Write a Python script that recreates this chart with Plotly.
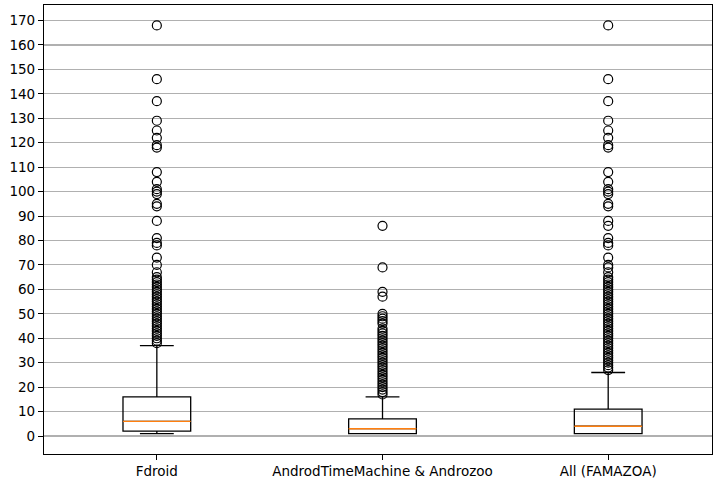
import plotly.graph_objects as go

categories = ["Fdroid", "AndrodTimeMachine & Androzoo", "All (FAMAZOA)"]
positions = [1, 2, 3]
q1 = [2, 1, 1]
median = [6, 3, 4]
q3 = [16, 7, 11]
lower_whisker = [1, 1, 1]
upper_whisker = [37, 16, 26]

outliers_fdroid = [38, 39, 40, 41, 42, 43, 44, 45, 46, 47, 48, 49, 50, 51, 52, 53, 54,
                   55, 56, 57, 58, 59, 60, 61, 62, 63, 64, 65, 67, 70, 73, 78, 79, 81,
                   88, 94, 95, 99, 100, 101, 104, 108, 118, 119, 122, 125, 129, 137, 146, 168]
outliers_atm = [17, 18, 19, 20, 21, 22, 23, 24, 25, 26, 27, 28, 29, 30, 31, 32, 33, 34,
                35, 36, 37, 38, 39, 40, 41, 42, 43, 44, 46, 47, 48, 49, 50, 57, 59, 69, 86]
outliers_all = [27, 28, 29, 30, 31, 32, 33, 34, 35, 36, 37, 38, 39, 40, 41, 42, 43, 44,
                45, 46, 47, 48, 49, 50, 51, 52, 53, 54, 55, 56, 57, 58, 59, 60, 61, 62,
                63, 64, 65, 67, 69, 70, 73, 78, 79, 81, 86, 88, 94, 95, 99, 100, 101,
                104, 108, 118, 119, 122, 125, 129, 137, 146, 168]
outliers = [outliers_fdroid, outliers_atm, outliers_all]

y_ticks = [0, 10, 20, 30, 40, 50, 60, 70, 80, 90, 100, 110, 120, 130, 140, 150, 160, 170]

box_width = 0.3

fig = go.Figure()
for i, pos in enumerate(positions):
    fig.add_trace(go.Box(
        x=[pos], q1=[q1[i]], median=[median[i]], q3=[q3[i]],
        lowerfence=[lower_whisker[i]], upperfence=[upper_whisker[i]],
        width=box_width, whiskerwidth=0.5,
        line=dict(color="black", width=1.3),
        fillcolor="rgba(0,0,0,0)",
        boxpoints=False, showlegend=False, hoverinfo="skip",
    ))
    fig.add_trace(go.Scatter(
        x=[pos - box_width / 2, pos + box_width / 2], y=[median[i], median[i]],
        mode="lines", line=dict(color="#ff7f0e", width=1.4),
        showlegend=False, hoverinfo="skip",
    ))
    fig.add_trace(go.Scatter(
        x=[pos] * len(outliers[i]), y=outliers[i], mode="markers",
        marker=dict(symbol="circle-open", size=9, color="black", line=dict(width=1.2)),
        showlegend=False, hoverinfo="skip",
    ))

fig.update_layout(
    width=713, height=482,
    margin=dict(l=44, r=1, t=5, b=28),
    paper_bgcolor="white", plot_bgcolor="white",
    font=dict(family="DejaVu Sans", size=13.5, color="black"),
    xaxis=dict(
        range=[0.5, 3.46], tickvals=positions, ticktext=categories,
        showgrid=False, zeroline=False, showline=True, linecolor="black",
        linewidth=1.1, mirror=True, ticks="outside", ticklen=5, tickcolor="black",
    ),
    yaxis=dict(
        range=[-7.35, 176.35], tickvals=y_ticks,
        showgrid=True, gridcolor="#b0b0b0", gridwidth=1.1, zeroline=False,
        showline=True, linecolor="black", linewidth=1.1, mirror=True,
        ticks="outside", ticklen=5, tickcolor="black",
    ),
)

fig.write_html(
    "out.html",
    config={"displayModeBar": False, "staticPlot": True},
    post_script="document.body.style.margin='0px';document.body.style.overflow='hidden';",
)
